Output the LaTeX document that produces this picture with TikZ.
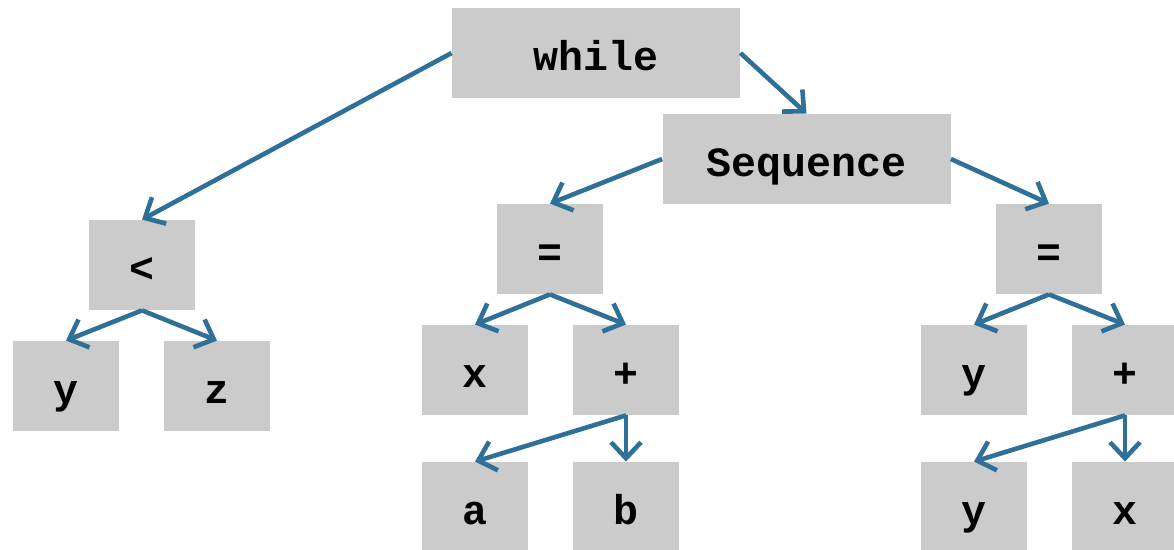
\documentclass[tikz,border=0pt]{standalone}
\usepackage{fontspec}
\setmonofont{Liberation Mono}
\usepackage{xcolor}
\usepackage{tikz}
\usetikzlibrary{arrows.meta}
\definecolor{boxgray}{HTML}{CBCBCB}
\definecolor{edgeblue}{HTML}{2F7098}

\begin{document}
\begin{tikzpicture}[
    x=0.5pt, y=-0.5pt,
    every node/.style={rectangle, fill=boxgray,
                       minimum width=53pt, minimum height=45pt,
                       inner sep=0pt, align=center,
                       text height=18pt, text depth=0pt,
                       font=\ttfamily\bfseries\fontsize{20.8}{24}\selectfont},
    wide/.style={minimum width=144pt},
    edge/.style={draw=edgeblue, line width=2.3pt,
                 -{Straight Barb[length=8pt,width=15pt,line width=2.3pt]}}
]
\useasboundingbox (0,0) rectangle (1174,550);

% upper part
\node[wide] (while) at (596,53) {while};
\node[wide] (seq) at (806.5,159) {Sequence};
\node (lt) at (142,265) {<};
\node (ltl) at (66,386) {y};
\node (ltr) at (217,386) {z};

% first assignment
\node (asgA) at (550,249) {=};
\node (xA) at (475,370) {x};
\node (plusA) at (626,370) {+};
\node (aA) at (475,507) {a};
\node (bA) at (626,507) {b};

% second assignment
\node (asgB) at (1049,249) {=};
\node (yB) at (974,370) {y};
\node (plusB) at (1125,370) {+};
\node (yC) at (974,507) {y};
\node (xC) at (1125,507) {x};

\draw[edge] (while.west) -- (lt.north);
\draw[edge] (while.east) -- (seq.north);
\draw[edge] (lt.south) -- (ltl.north);
\draw[edge] (lt.south) -- (ltr.north);
\draw[edge] (seq.west) -- (asgA.north);
\draw[edge] (seq.east) -- (asgB.north);
\draw[edge] (asgA.south) -- (xA.north);
\draw[edge] (asgA.south) -- (plusA.north);
\draw[edge] (plusA.south) -- (aA.north);
\draw[edge] (plusA.south) -- (bA.north);
\draw[edge] (asgB.south) -- (yB.north);
\draw[edge] (asgB.south) -- (plusB.north);
\draw[edge] (plusB.south) -- (yC.north);
\draw[edge] (plusB.south) -- (xC.north);
\end{tikzpicture}
\end{document}
